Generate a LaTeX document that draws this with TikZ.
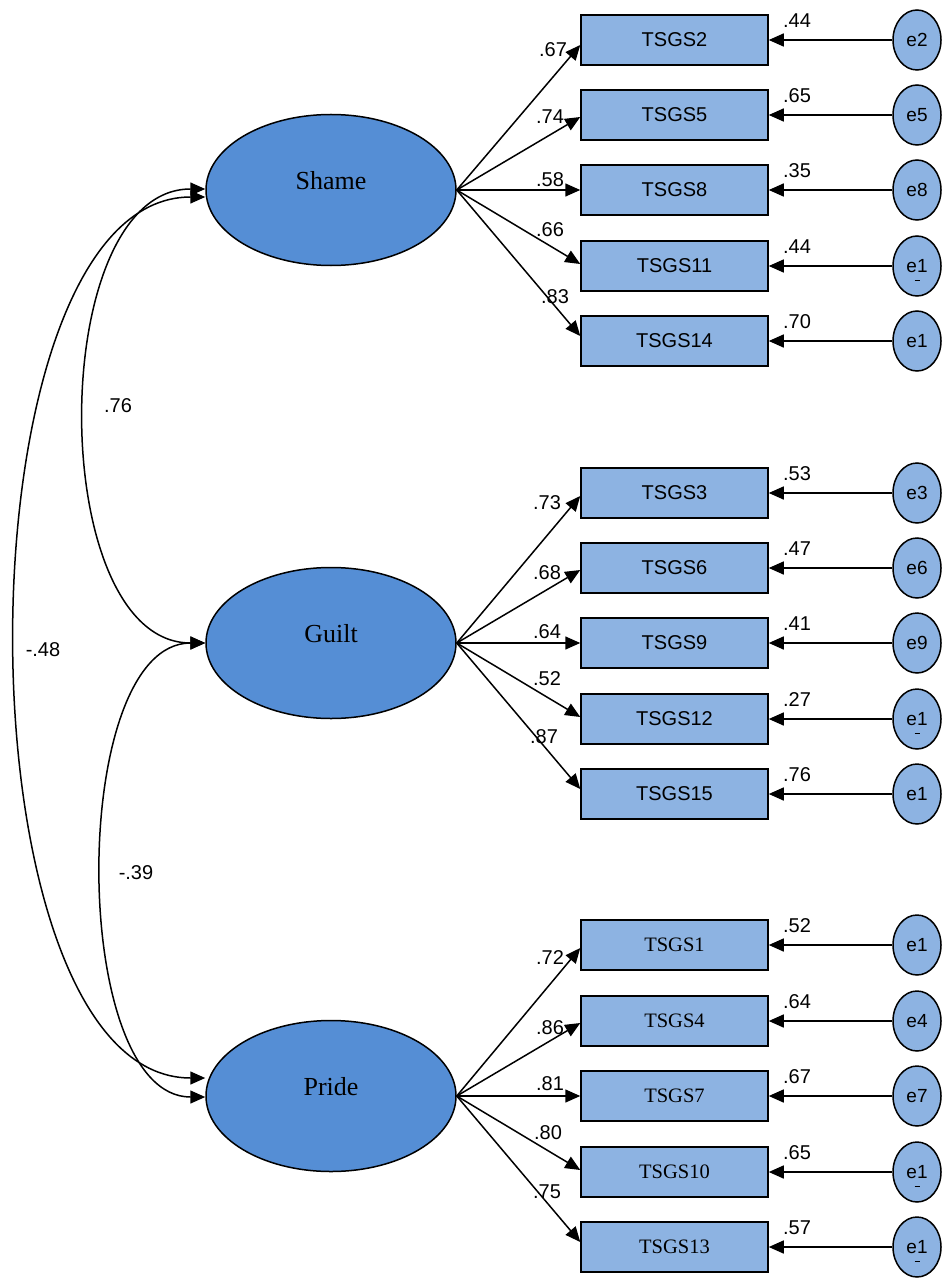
\documentclass[tikz,border=0pt]{standalone}
\usepackage{fontspec}
\setmainfont{Liberation Serif}
\setsansfont{Liberation Sans}
\usetikzlibrary{shapes.geometric,arrows.meta,calc}
\definecolor{latentblue}{RGB}{85,142,213}
\definecolor{itemblue}{RGB}{141,179,226}
\begin{document}
\begin{tikzpicture}[x=1pt,y=-1pt,
  line width=1.5pt,
  >={Triangle[length=15pt,width=13pt]},
  latent/.style={ellipse,draw,fill=latentblue,minimum width=250pt,minimum height=151pt,inner sep=0pt},
  lattext/.style={font=\rmfamily\fontsize{26}{28}\selectfont,inner sep=0pt},
  item/.style={rectangle,draw,fill=itemblue,minimum width=187pt,minimum height=50pt,inner sep=0pt,font=\sffamily\fontsize{20}{22}\selectfont},
  itemserif/.style={item,font=\rmfamily\fontsize{20.5}{22}\selectfont},
  err/.style={ellipse,draw,fill=itemblue,minimum width=48pt,minimum height=60pt,inner sep=0pt,font=\sffamily\fontsize{19}{20}\selectfont},
  coef/.style={font=\sffamily\fontsize{20}{22}\selectfont,inner sep=0pt},
  stub/.style={line width=0.8pt},
]
\useasboundingbox (0,0) rectangle (944,1281);

% latent factors
\node[latent] (shame) at (331,190) {};
\node[lattext] (shamet) at (331,181) {Shame};
\node[latent] (guilt) at (331,643) {};
\node[lattext] (guiltt) at (331,634) {Guilt};
\node[latent] (pride) at (331,1096) {};
\node[lattext] (pridet) at (331,1087) {Pride};

% Shame indicators: id/row y/item/error/residual/loading/label x/label y/arrow offset/stub
\foreach \n/\y/\t/\e/\r/\l/\lx/\ly/\o/\d in {
  2/40/TSGS2/e2/.44/.67/553/50/5/0,
  5/115/TSGS5/e5/.65/.74/550/117/2/0,
  8/190/TSGS8/e8/.35/.58/550/180/0/0,
  11/266/TSGS11/e1/.44/.66/550/230/-2/1,
  14/341/TSGS14/e1/.70/.83/555/297/-5/0}{
  \node[item] (b\n) at (674.5,\y) {\t};
  \node[err] (e\n) at (917,\y) {\e};
  \draw[->] (e\n.west) -- (b\n.east);
  \draw[->] (shame.east) -- ($(b\n.west)+(0,\o)$);
  \node[coef] (r\n) at (797,\y-19) {\r};
  \node[coef] (l\n) at (\lx,\ly) {\l};
  \ifnum\d=1 \draw[stub] ($(e\n.center)+(-2.5,14)$) -- ++(5,0); \fi
}

% Guilt indicators
\foreach \n/\y/\t/\e/\r/\l/\lx/\ly/\o/\d in {
  3/493/TSGS3/e3/.53/.73/547/503/3/0,
  6/568/TSGS6/e6/.47/.68/547/573/2/0,
  9/643/TSGS9/e9/.41/.64/547/632/0/0,
  12/719/TSGS12/e1/.27/.52/547/679/-2/1,
  15/794/TSGS15/e1/.76/.87/544/737/-5/0}{
  \node[item] (b\n) at (674.5,\y) {\t};
  \node[err] (e\n) at (917,\y) {\e};
  \draw[->] (e\n.west) -- (b\n.east);
  \draw[->] (guilt.east) -- ($(b\n.west)+(0,\o)$);
  \node[coef] (r\n) at (797,\y-19) {\r};
  \node[coef] (l\n) at (\lx,\ly) {\l};
  \ifnum\d=1 \draw[stub] ($(e\n.center)+(-2.5,14)$) -- ++(5,0); \fi
}

% Pride indicators
\foreach \n/\y/\t/\e/\r/\l/\lx/\ly/\o/\d in {
  1/945/TSGS1/e1/.52/.72/550/958/3/0,
  4/1021/TSGS4/e4/.64/.86/550/1028/2/0,
  7/1096/TSGS7/e7/.67/.81/550/1084/0/0,
  10/1172/TSGS10/e1/.65/.80/548/1133/-2/1,
  13/1247/TSGS13/e1/.57/.75/547/1192/-5/1}{
  \node[itemserif] (b\n) at (674.5,\y) {\t};
  \node[err] (e\n) at (917,\y) {\e};
  \draw[->] (e\n.west) -- (b\n.east);
  \draw[->] (pride.east) -- ($(b\n.west)+(0,\o)$);
  \node[coef] (r\n) at (797,\y-19) {\r};
  \node[coef] (l\n) at (\lx,\ly) {\l};
  \ifnum\d=1 \draw[stub] ($(e\n.center)+(-2.5,14)$) -- ++(5,0); \fi
}

% factor covariances
\draw[<->] ($(shame.west)+(0,-1)$) .. controls +(-160,0) and +(-160,0) .. (guilt.west);
\draw[<->] ($(shame.west)+(0,7)$) .. controls +(-252,0) and +(-252,0) .. ($(pride.west)+(0,-18)$);
\draw[<->] (guilt.west) .. controls +(-137,0) and +(-137,0) .. ($(pride.west)+(0,1)$);
\node[coef] (c1) at (118,406) {.76};
\node[coef] (c2) at (43,650) {-.48};
\node[coef] (c3) at (136,873) {-.39};
\end{tikzpicture}
\end{document}
